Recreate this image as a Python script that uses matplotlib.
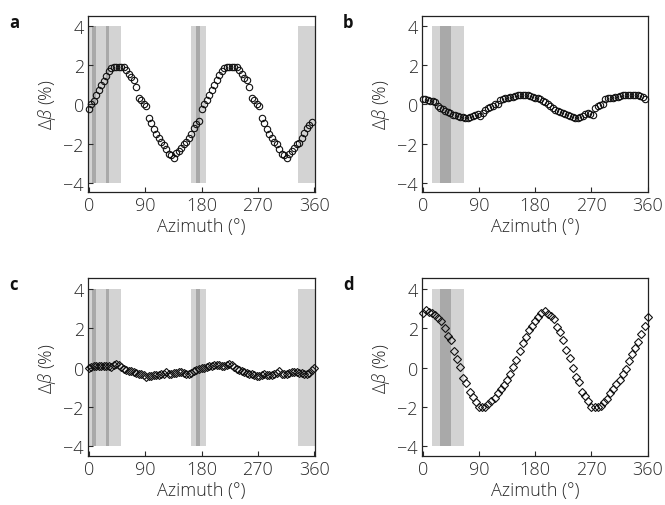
import numpy as np
import matplotlib
matplotlib.use("Agg")
import matplotlib.pyplot as plt

plt.rcParams['font.family'] = ['Open Sans', 'DejaVu Sans']
plt.rcParams['font.weight'] = 'light'
plt.rcParams['mathtext.fontset'] = 'custom'
plt.rcParams['mathtext.rm'] = 'Open Sans:light'
plt.rcParams['mathtext.it'] = 'Open Sans:italic:light'

# ---- data ----
step_a = 4
vals_a = [-0.25, 0.0, 0.2, 0.5, 0.73, 0.99, 1.22, 1.45, 1.71, 1.85, 1.93, 1.93, 1.93, 1.93, 1.9,
          1.78, 1.54, 1.4, 1.25, 0.9, 0.34, 0.25, 0.05, -0.1, -0.68, -0.93, -1.25, -1.5, -1.7, -1.9,
          -2.1, -2.3, -2.56, -2.6, -2.73, -2.5, -2.4, -2.25, -2.05, -1.92, -1.7, -1.5, -1.2, -1.0, -0.85,
          -0.24, 0.0, 0.25, 0.48, 0.75, 1.0, 1.25, 1.5, 1.7, 1.85, 1.93, 1.93, 1.93, 1.93, 1.9,
          1.75, 1.55, 1.38, 1.25, 0.88, 0.33, 0.22, 0.05, -0.08, -0.68, -0.95, -1.25, -1.5, -1.72, -1.9,
          -2.05, -2.3, -2.55, -2.6, -2.75, -2.52, -2.4, -2.25, -2.05, -1.95, -1.72, -1.48, -1.2, -1.03, -0.88]

step_b = 4
vals_b = [0.3, 0.3, 0.22, 0.18, 0.17, 0.15, -0.1, -0.18, -0.25, -0.32, -0.38, -0.45, -0.52, -0.56, -0.6,
          -0.63, -0.66, -0.67, -0.67, -0.64, -0.58, -0.52, -0.5, -0.6, -0.45, -0.3, -0.2, -0.15, -0.06, 0.0,
          0.05, 0.25, 0.3, 0.33, 0.34, 0.37, 0.4, 0.44, 0.48, 0.51, 0.51, 0.51, 0.5, 0.46, 0.4,
          0.34, 0.32, 0.27, 0.2, 0.14, 0.02, -0.1, -0.18, -0.26, -0.31, -0.38, -0.44, -0.5, -0.54, -0.6,
          -0.64, -0.67, -0.67, -0.65, -0.6, -0.51, -0.43, -0.5, -0.52, -0.2, -0.1, -0.03, 0.02, 0.28, 0.33,
          0.34, 0.35, 0.39, 0.39, 0.45, 0.48, 0.51, 0.51, 0.51, 0.5, 0.48, 0.48, 0.45, 0.4, 0.3]

step_c = 4
vals_c = [0.0, 0.05, 0.08, 0.08, 0.1, 0.1, 0.08, 0.08, 0.1, 0.05, 0.12, 0.2, 0.12, 0.05, -0.05,
          -0.12, -0.15, -0.18, -0.22, -0.25, -0.3, -0.34, -0.38, -0.45, -0.4, -0.4, -0.38, -0.38, -0.36, -0.34,
          -0.3, -0.22, -0.3, -0.34, -0.28, -0.25, -0.22, -0.22, -0.25, -0.3, -0.34, -0.25, -0.17, -0.1, -0.05,
          -0.02, 0.0, 0.05, 0.08, 0.1, 0.12, 0.12, 0.12, 0.1, 0.08, 0.12, 0.2, 0.12, 0.05, -0.05,
          -0.12, -0.18, -0.22, -0.28, -0.34, -0.34, -0.36, -0.4, -0.42, -0.36, -0.34, -0.38, -0.38, -0.36, -0.34,
          -0.25, -0.17, -0.3, -0.34, -0.3, -0.25, -0.22, -0.22, -0.22, -0.24, -0.25, -0.3, -0.34, -0.25, -0.12,
          0.0]

step_d = 5
vals_d = [2.8, 2.92, 2.85, 2.78, 2.68, 2.55, 2.38, 2.03, 1.64, 1.4, 0.84, 0.47, 0.05, -0.5, -0.76,
          -1.25, -1.5, -1.75, -1.97, -1.97, -1.97, -1.82, -1.68, -1.52, -1.3, -1.1, -0.88, -0.62, -0.3, 0.05,
          0.42, 0.84, 1.25, 1.58, 1.9, 2.12, 2.4, 2.6, 2.8, 2.9, 2.75, 2.62, 2.48, 2.07, 1.8,
          1.4, 0.9, 0.5, 0.0, -0.45, -0.7, -1.25, -1.45, -1.7, -1.97, -1.97, -1.97, -1.95, -1.75, -1.57,
          -1.3, -1.06, -0.82, -0.6, -0.32, -0.05, 0.35, 0.7, 1.0, 1.3, 1.7, 2.1, 2.6]

# shaded bands (azimuth ranges, degrees)
light_ac = [(0, 51), (163.5, 187), (334, 361)]
dark_ac = [(5.5, 11.5), (27, 33), (171.5, 178)]
light_bd = [(14.5, 66.5)]
dark_bd = [(27, 45)]

xticks = [0, 90, 180, 270, 360]
yticks = [-4, -2, 0, 2, 4]

LIGHT = '#d3d3d3'
DARK = '#a9a9a9'
TXT = '#2a2a2a'
FS = 13

fig = plt.figure(figsize=(6.65, 5.06), dpi=100)
W, H = 665, 506


def make_ax(l, t, r, b):
    return fig.add_axes([l / W, 1 - b / H, (r - l) / W, (b - t) / H])


ax_a = make_ax(88, 16.7, 315, 193.3)
ax_b = make_ax(422, 16.7, 648.3, 193.3)
ax_c = make_ax(88, 279.3, 315, 457.3)
ax_d = make_ax(422, 279.3, 648.3, 457.3)

panels = [
    (ax_a, vals_a, step_a, 'o', light_ac, dark_ac, 'a'),
    (ax_b, vals_b, step_b, 'o', light_bd, dark_bd, 'b'),
    (ax_c, vals_c, step_c, 'D', light_ac, dark_ac, 'c'),
    (ax_d, vals_d, step_d, 'D', light_bd, dark_bd, 'd'),
]

for ax, vals, step, mk, lights, darks, lab in panels:
    for x0, x1 in lights:
        ax.fill_between([x0, x1], -4, 4, color=LIGHT, lw=0, zorder=0)
    for x0, x1 in darks:
        ax.fill_between([x0, x1], -4, 4, color=DARK, lw=0, zorder=0.5)
    x = np.arange(len(vals)) * step
    ms = 4.6 if mk == 'o' else 3.8
    ax.plot(x, vals, linestyle='none', marker=mk, ms=ms, mfc='none', mec='#111111',
            mew=0.8, clip_on=False, zorder=3)
    ax.set_xlim(-1, 361)
    ax.set_ylim(-4.5, 4.55)
    ax.set_xticks(xticks)
    ax.set_yticks(yticks)
    ax.set_xticklabels([str(t) for t in xticks])
    ax.set_yticklabels([str(t).replace('-', '\u2212') for t in yticks])
    ax.tick_params(direction='in', length=3.5, width=0.8, labelsize=FS, pad=3,
                   colors=TXT)
    for s in ax.spines.values():
        s.set_linewidth(0.9)
        s.set_color('#222222')
    ax.set_xlabel('Azimuth (°)', fontsize=FS, labelpad=2, color=TXT, fontweight='light')
    ax.set_ylabel(r'$\mathit{\Delta\beta}$ (%)', fontsize=FS, labelpad=4, color=TXT,
                  fontweight='light')
    bb = ax.get_position()
    fig.text(bb.x0 - 79 / W, bb.y1 - 6 / H, lab, fontsize=12, fontweight='bold',
             ha='left', va='center', color='#111111')

fig.savefig('out.png', dpi=100)
